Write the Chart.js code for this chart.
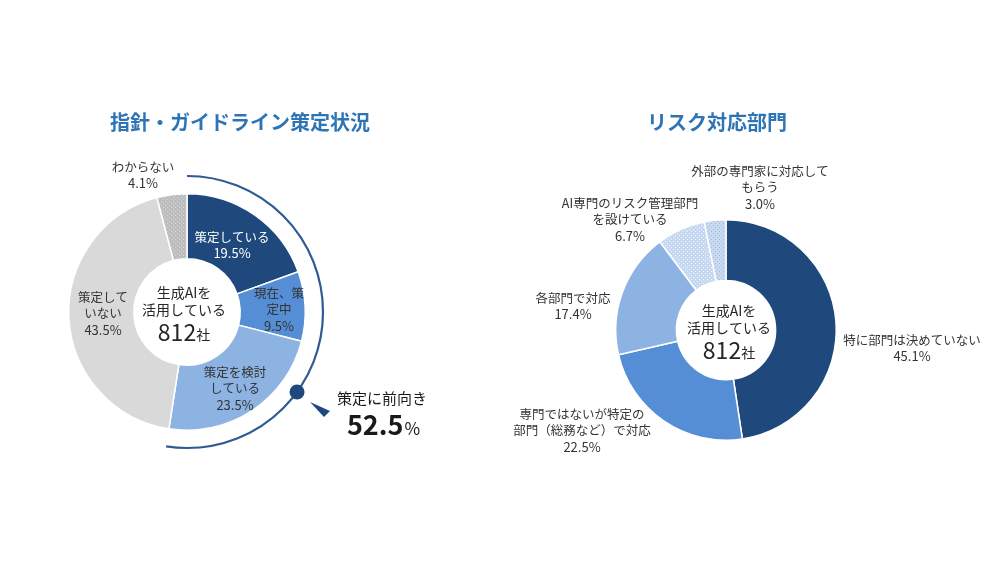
<!DOCTYPE html>
<html><head><meta charset="utf-8">
<script src="https://cdn.jsdelivr.net/npm/chart.js@4.4.0/dist/chart.umd.min.js"></script>
<style>
html,body{margin:0;padding:0;background:#fff;width:1000px;height:562px;overflow:hidden;}
.box{position:absolute;top:0;width:500px;height:562px;}
</style></head>
<body>
<div class="box" style="left:0"><canvas id="c1"></canvas></div>
<div class="box" style="left:500px"><canvas id="c2"></canvas></div>
<script>
// ---- data ----
const leftTitle = '指針・ガイドライン策定状況';
const leftCategories = ['策定している','現在、策定中','策定を検討している','策定していない','わからない'];
const leftValues = [19.5, 9.5, 23.5, 43.5, 4.1];
const leftLabelLines = [['策定している'],['現在、策','定中'],['策定を検討','している'],['策定して','いない'],['わからない']];
const positiveLabel = '策定に前向き';
const positiveCount = 3; // first three categories

const rightTitle = 'リスク対応部門';
const rightCategories = ['特に部門は決めていない','専門ではないが特定の部門（総務など）で対応','各部門で対応','AI専門のリスク管理部門を設けている','外部の専門家に対応してもらう'];
const rightValues = [45.1, 22.5, 17.4, 6.7, 3.0];
const rightLabelLines = [['特に部門は決めていない'],['専門ではないが特定の','部門（総務など）で対応'],['各部門で対応'],['AI専門のリスク管理部門','を設けている'],['外部の専門家に対応して','もらう']];

const centerLines = ['生成AIを','活用している'];
const companyCount = 812;
const companyUnit = '社';

// ---- styles / layout ----
const FONT = '"Noto Sans CJK JP", "Noto Sans", sans-serif';
const TEXT = '#333333';
function dotPattern(base, dot){
  const c = document.createElement('canvas'); c.width = 4; c.height = 4;
  const g = c.getContext('2d'); g.fillStyle = base; g.fillRect(0,0,4,4);
  g.fillStyle = dot; g.fillRect(1,1,1,1); g.fillRect(3,3,1,1);
  return g.createPattern(c, 'repeat');
}
const leftColors = ['#1f497d','#558ed5','#8db3e2','#d9d9d9', dotPattern('#bdbdbd','#d6d6d6')];
const leftTextColors = ['#ffffff', TEXT, TEXT, TEXT, TEXT];
// label offsets from donut centre [dx, firstLineDy]
const leftLabelPos = [[45,-75],[92,-19],[48,60],[-84,-15],[-44,-145]];
const rightColors = ['#1f497d','#558ed5','#8db3e2', dotPattern('#c6d9f1','#eef4fb'), dotPattern('#c9daf0','#9fbbe0')];
const rightLabelPos = [[186,10],[-144,84],[-153,-32],[-96,-127],[34,-159]];
const LINE = 16.5;

function drawLabels(ctx, cx, cy, values, lines, pos, colors){
  ctx.save();
  ctx.textAlign = 'center'; ctx.textBaseline = 'middle';
  ctx.font = '12.5px ' + FONT;
  values.forEach((v,i)=>{
    const all = lines[i].concat([v.toFixed(1) + '%']);
    ctx.fillStyle = colors ? colors[i] : TEXT;
    all.forEach((t,k)=>{
      ctx.font = (k === all.length-1 ? '13px ' : '12.5px ') + FONT;
      ctx.fillText(t, cx + pos[i][0], cy + pos[i][1] + k*LINE);
    });
  });
  ctx.restore();
}
function drawCenter(ctx, cx, cy){
  ctx.save();
  ctx.textAlign = 'center'; ctx.textBaseline = 'middle'; ctx.fillStyle = '#262626';
  ctx.font = '14px ' + FONT;
  ctx.fillText(centerLines[0], cx, cy - 19);
  ctx.fillText(centerLines[1], cx, cy - 2);
  const num = String(companyCount);
  ctx.font = '23px ' + FONT; const w1 = ctx.measureText(num).width;
  ctx.font = '14px ' + FONT; const w2 = ctx.measureText(companyUnit).width;
  const x0 = cx - (w1 + w2)/2;
  ctx.textAlign = 'left';
  ctx.font = '23px ' + FONT; ctx.fillText(num, x0, cy + 20);
  ctx.font = '14px ' + FONT; ctx.fillText(companyUnit, x0 + w1, cy + 23);
  ctx.restore();
}
function drawTitle(ctx, text, x){
  ctx.save();
  ctx.textAlign = 'center'; ctx.textBaseline = 'middle';
  ctx.fillStyle = '#2e75b6'; ctx.font = 'bold 20px ' + FONT;
  ctx.fillText(text, x, 122);
  ctx.restore();
}

const leftPlugin = {
  id: 'leftDecor',
  afterDraw(chart){
    const ctx = chart.ctx; const meta = chart.getDatasetMeta(0);
    const a0 = meta.data[0]; const cx = a0.x, cy = a0.y;
    drawTitle(ctx, leftTitle, 240);
    drawLabels(ctx, cx, cy, leftValues, leftLabelLines, leftLabelPos, leftTextColors);
    drawCenter(ctx, cx - 3, cy);
    // outer bracket arc across the positive categories
    const start = meta.data[0].startAngle, end = meta.data[positiveCount-1].endAngle;
    const R = 136;
    ctx.save();
    ctx.strokeStyle = '#2f5a93'; ctx.lineWidth = 2.2;
    ctx.beginPath(); ctx.arc(cx, cy, R, start, end); ctx.stroke();
    const ang = -Math.PI/2 + 126*Math.PI/180;
    const dx = cx + R*Math.cos(ang), dy = cy + R*Math.sin(ang);
    ctx.fillStyle = '#1f497d';
    ctx.beginPath(); ctx.arc(dx, dy, 7.5, 0, Math.PI*2); ctx.fill();
    ctx.beginPath();
    ctx.moveTo(cx+123, cy+90); ctx.lineTo(cx+137, cy+105); ctx.lineTo(cx+143, cy+99); ctx.closePath(); ctx.fill();
    const sum = leftValues.slice(0, positiveCount).reduce((s,v)=>s+v, 0);
    ctx.fillStyle = '#1a1a1a'; ctx.textBaseline = 'middle'; ctx.textAlign = 'center';
    ctx.font = '15px ' + FONT;
    ctx.fillText(positiveLabel, cx + 195, cy + 86);
    const num = sum.toFixed(1);
    ctx.font = 'bold 27px ' + FONT; const w1 = ctx.measureText(num).width;
    ctx.font = '17px ' + FONT; const w2 = ctx.measureText('%').width;
    const x0 = cx + 196 - (w1 + w2)/2;
    ctx.textAlign = 'left';
    ctx.font = 'bold 27px ' + FONT; ctx.fillText(num, x0, cy + 113);
    ctx.font = '17px ' + FONT; ctx.fillText('%', x0 + w1 + 1, cy + 117);
    ctx.restore();
  }
};
const rightPlugin = {
  id: 'rightDecor',
  afterDraw(chart){
    const ctx = chart.ctx; const meta = chart.getDatasetMeta(0);
    const a0 = meta.data[0]; const cx = a0.x, cy = a0.y;
    drawTitle(ctx, rightTitle, 217);
    drawLabels(ctx, cx, cy, rightValues, rightLabelLines, rightLabelPos, null);
    drawCenter(ctx, cx + 3, cy);
  }
};

function make(id, cats, vals, colors, pad, plugin){
  return new Chart(document.getElementById(id), {
    type: 'doughnut',
    data: { labels: cats, datasets: [{ data: vals, backgroundColor: colors, borderColor: '#ffffff', borderWidth: 1.5 }] },
    options: {
      responsive: true, maintainAspectRatio: false, animation: false, events: [],
      cutout: '45%',
      layout: { padding: pad },
      plugins: { legend: { display: false }, tooltip: { enabled: false }, title: { display: false } }
    },
    plugins: [plugin]
  });
}
make('c1', leftCategories, leftValues, leftColors, {left: 68, right: 194, top: 193, bottom: 131}, leftPlugin);
make('c2', rightCategories, rightValues, rightColors, {left: 115, right: 163, top: 219, bottom: 121}, rightPlugin);
</script>
</body></html>
